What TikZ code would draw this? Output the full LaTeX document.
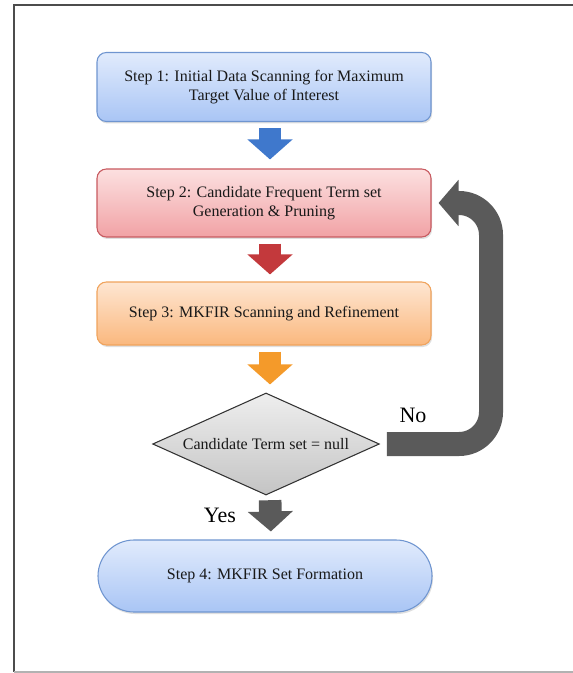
\documentclass[tikz,border=0pt]{standalone}
\usepackage{fontspec}
\setmainfont{Liberation Serif}
\usetikzlibrary{shapes.geometric,arrows.meta,shadows}

\definecolor{bluetop}{HTML}{E1EBFC}
\definecolor{bluebot}{HTML}{A9C5F5}
\definecolor{blueedge}{HTML}{6F95D0}
\definecolor{redtop}{HTML}{FCE0E0}
\definecolor{redbot}{HTML}{F1A2A5}
\definecolor{rededge}{HTML}{C85A60}
\definecolor{orntop}{HTML}{FEE6D2}
\definecolor{ornbot}{HTML}{FAB87E}
\definecolor{ornedge}{HTML}{F0A35C}
\definecolor{graytop}{HTML}{EEEEEE}
\definecolor{graybot}{HTML}{C4C4C4}
\definecolor{arrblue}{HTML}{3F78CC}
\definecolor{arrred}{HTML}{C3393C}
\definecolor{arrorn}{HTML}{F49A2A}
\definecolor{arrgray}{HTML}{5A5A5A}

\begin{document}
\begin{tikzpicture}[x=0.75pt,y=-0.75pt,
  boxtext/.style={font=\fontsize{12}{14.5}\selectfont, text=black!90, align=center},
  stepbox/.style={boxtext, rectangle, rounded corners=7pt, minimum width=250.5pt,
    line width=0.8pt, drop shadow={shadow xshift=0.8pt, shadow yshift=-1.5pt, opacity=0.25}},
  bluebox/.style={stepbox, draw=blueedge, top color=bluetop, bottom color=bluebot},
  redbox/.style={stepbox, draw=rededge, top color=redtop, bottom color=redbot},
  ornbox/.style={stepbox, draw=ornedge, top color=orntop, bottom color=ornbot},
  blockarr/.style={line width=17pt, -{Triangle[width=33pt,length=15pt]},
    shorten <=4.5pt},
  answer/.style={font=\fontsize{16.5}{18}\selectfont}]
\useasboundingbox (0,0) rectangle (573,673);

% frame
\draw [line width=1.5pt, black!70] (573,5)--(14,5)--(14,672);
\draw [line width=1pt, black!30] (14,672)--(573,672);

% steps
\node [bluebox, minimum height=51.75pt] (s1) at (264,87)
  {Step 1: Initial Data Scanning for Maximum\\Target Value of Interest};
\node [redbox, minimum height=51pt] (s2) at (264,203)
  {Step 2: Candidate Frequent Term set\\Generation \& Pruning};
\node [ornbox, minimum height=47.25pt] (s3) at (264,313.5)
  {Step 3: MKFIR Scanning and Refinement};
\node [boxtext, diamond, aspect=2.2, inner sep=1pt, minimum width=170pt,
  minimum height=76.5pt, draw=black!80, line width=0.8pt,
  top color=graytop, bottom color=graybot] (test) at (266,444)
  {Candidate Term set = null};
\node [bluebox, rounded corners=27pt, minimum height=54pt] (s4) at (265,576)
  {Step 4: MKFIR Set Formation};

% arrows
\draw [blockarr, arrblue, shorten >=6.75pt] ([xshift=4.5pt]s1.south)--([xshift=4.5pt]s2.north);
\draw [blockarr, arrred, shorten >=5.25pt] ([xshift=4.5pt]s2.south)--([xshift=4.5pt]s3.north);
\draw [blockarr, arrorn, shorten >=6pt] ([xshift=4.5pt]s3.south)--([xshift=3pt]test.north);
\draw [blockarr, arrgray, shorten <=3.5pt, shorten >=6pt] ([xshift=3pt]test.south)--([xshift=4.5pt]s4.north);

\coordinate (turn) at (491,203);
\draw [arrgray, line width=18pt, rounded corners=24pt, -{Triangle[width=34pt,length=15pt]},
  shorten <=5.25pt, shorten >=5.25pt] (test.east) -| (turn) -- (s2.east);

\node [answer] (no) at (413,415) {No};
\node [answer] (yes) at (220,515) {Yes};
\end{tikzpicture}
\end{document}
